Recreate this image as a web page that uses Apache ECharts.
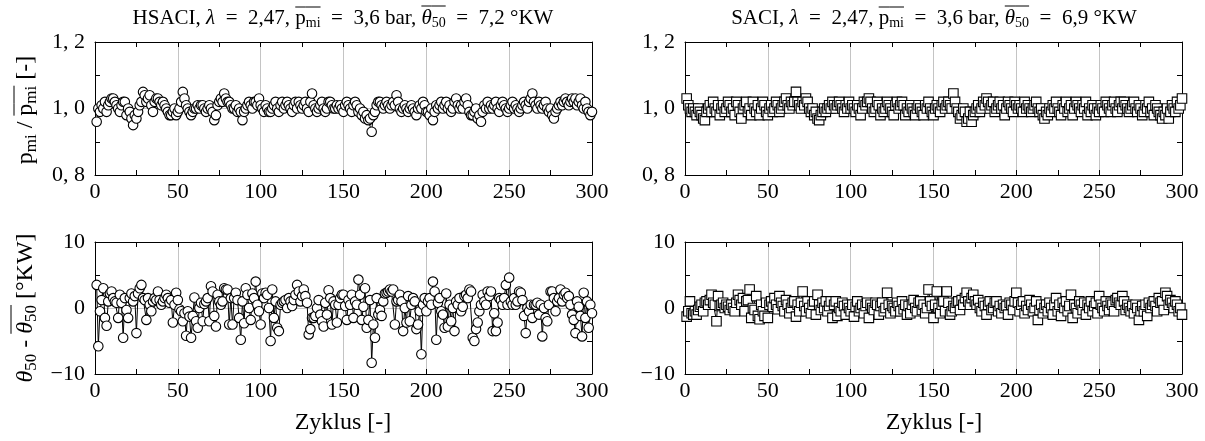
<!DOCTYPE html>
<html><head><meta charset="utf-8">
<script src="https://cdn.jsdelivr.net/npm/echarts@6/dist/echarts.min.js"></script>
<style>html,body{margin:0;padding:0;background:#fff}#c{width:1205px;height:441px}</style>
</head><body><div id="c"></div>
<script>
// ---- data ----
const xTickLabelsTop = ['0','50','100','150','200','250','300'];
const yTickLabelsP = {0.8:'0, 8', 1.0:'1, 0', 1.2:'1, 2'};
const yTickLabelsT = {'-10':'\u221210', '0':'0', '10':'10'};

const pHSACI = [
0.96,1.00,0.99,1.01,1.00,1.02,0.99,1.01,1.02,1.03,1.03,1.02,1.01,1.00,0.99,1.01,1.02,1.02,0.98,1.00,0.99,0.97,0.95,0.98,0.97,
0.99,1.01,1.02,1.05,1.04,1.02,1.03,1.04,1.01,0.99,1.02,1.03,1.03,1.02,1.01,1.02,1.01,1.00,0.99,0.98,0.98,0.99,1.00,0.98,0.99,
1.00,1.02,1.05,1.03,1.01,1.00,0.99,0.98,0.99,1.00,1.00,1.01,1.00,1.01,1.01,1.00,0.99,1.00,1.01,1.00,0.99,0.965,0.98,1.01,1.02,
1.03,1.02,1.045,1.03,1.02,1.02,1.01,1.00,1.00,1.01,0.99,1.00,0.99,0.965,0.99,1.00,1.01,1.02,1.01,1.00,1.02,1.02,1.01,1.03,1.01,
1.00,0.99,1.01,1.00,0.99,0.99,1.00,1.01,1.02,1.00,0.99,1.01,1.02,1.00,1.01,1.02,1.01,1.00,0.99,1.01,1.02,1.00,1.02,1.01,1.00,
1.01,1.02,1.00,0.99,1.02,1.045,1.01,1.00,0.99,1.00,1.01,1.02,1.00,0.99,1.00,1.02,1.02,1.01,1.00,1.00,1.01,1.00,1.01,1.00,0.99,
1.01,1.02,1.01,1.00,0.99,1.01,1.02,1.01,0.99,1.00,0.98,0.99,0.97,0.98,0.965,0.97,0.93,0.98,0.99,1.01,1.02,1.02,1.01,1.00,1.01,
1.02,1.01,1.00,1.01,1.02,1.01,1.04,1.02,1.00,0.99,1.00,1.01,1.00,0.99,1.00,1.01,1.00,0.99,0.98,1.00,1.01,1.00,1.02,1.01,0.99,
0.99,0.98,1.00,0.965,0.99,1.01,1.00,1.01,1.02,1.00,1.01,1.02,1.00,1.01,0.99,1.00,1.02,1.03,1.01,1.00,1.01,1.00,1.02,1.03,1.01,
0.99,0.98,0.98,0.99,1.00,0.97,0.98,0.96,0.99,1.01,1.00,1.02,1.00,1.01,1.00,1.01,1.02,1.00,0.99,1.01,1.02,1.01,1.00,0.99,1.00,
1.01,1.02,1.00,1.01,1.00,0.99,1.00,1.01,1.02,1.01,1.00,1.02,1.03,1.045,1.02,1.01,1.00,1.02,1.01,1.00,1.01,1.02,1.00,0.99,1.00,
0.98,0.97,0.99,1.00,1.01,1.02,1.01,1.02,1.03,1.02,1.01,1.02,1.03,1.02,1.03,1.01,1.02,1.03,1.01,1.00,1.02,1.00,0.99,0.98,0.99
];
const pSACI = [
1.03,1.01,1.00,0.99,1.00,0.99,0.98,1.00,0.99,0.98,0.97,0.965,0.99,1.00,1.01,0.99,1.02,1.00,0.99,1.01,0.98,1.00,1.01,0.99,1.00,
1.02,1.01,0.99,1.00,0.98,1.02,1.01,0.99,0.97,1.00,1.01,1.02,0.99,1.00,0.98,1.02,1.00,0.99,1.01,0.98,1.00,1.02,1.01,0.99,0.98,
1.00,1.01,0.99,1.00,1.02,1.01,0.99,1.00,1.01,1.02,1.03,1.01,1.00,1.02,1.01,1.02,1.05,1.02,1.01,1.00,1.02,1.01,1.03,1.02,1.00,
0.99,1.00,0.98,0.99,0.97,0.965,0.98,0.99,1.00,0.99,1.00,1.01,1.00,1.02,1.01,1.00,1.01,1.02,1.01,1.00,0.99,1.01,1.00,1.02,1.00,
1.01,1.00,0.99,1.01,1.00,0.98,1.00,1.02,1.01,1.02,1.03,1.02,1.00,0.99,1.00,1.02,1.01,0.98,1.00,0.99,1.00,1.02,1.01,1.00,0.99,
0.98,1.01,1.02,1.00,1.01,1.02,1.01,0.98,1.00,0.99,1.01,1.00,0.99,0.98,1.00,1.01,1.00,0.99,0.98,1.01,1.00,1.02,1.00,0.99,0.98,
1.00,1.01,1.00,0.99,1.01,1.02,1.00,1.01,1.02,1.01,1.00,1.045,1.02,1.00,0.99,0.97,0.98,1.00,0.99,0.96,0.97,0.99,0.96,0.98,0.99,
1.00,1.01,0.99,1.00,1.02,1.01,1.03,1.02,1.00,1.01,1.02,0.99,1.00,1.01,1.02,1.00,1.01,0.98,1.00,1.02,1.01,1.00,0.99,1.02,1.01,
1.00,1.01,1.00,0.99,1.02,1.00,1.01,1.00,0.99,1.00,1.01,1.02,1.00,0.99,1.00,0.98,0.97,0.99,0.98,1.00,0.99,1.01,1.00,1.02,1.00,
0.99,0.98,1.01,1.00,1.02,0.99,1.00,1.01,0.98,1.00,1.02,1.01,1.00,0.99,1.01,1.00,1.02,0.98,1.00,0.99,1.01,1.00,0.98,1.00,0.99,
1.01,1.00,0.99,1.02,1.01,1.00,0.99,1.01,1.02,1.00,0.99,1.01,1.02,1.00,1.02,1.01,1.00,0.99,1.00,1.01,1.02,1.00,0.99,1.01,1.00,
0.98,0.99,1.01,1.00,1.02,0.99,1.00,0.98,1.01,1.00,0.99,0.98,0.97,0.99,0.98,1.00,0.97,0.99,1.01,1.00,0.99,1.02,1.00,1.01,1.03
];
const tHSACI = [
3.5,-5.8,-0.5,1.2,3.0,-1.5,-2.7,1.0,2.2,2.5,1.5,1.0,0.8,-1.5,2.0,0.8,-4.5,1.5,-0.3,-1.5,1.5,2.2,1.0,1.8,-3.8,
2.2,3.0,3.5,1.5,1.2,-1.8,1.5,0.5,-0.5,1.0,1.5,1.2,2.5,1.2,0.5,1.0,1.5,2.0,1.5,0.8,1.2,-2.2,0.5,2.3,1.2,
-0.2,-0.5,-2.0,-0.8,-4.2,-0.5,-1.3,-4.5,-1.2,1.6,-2.0,-3.0,0.0,0.8,-2.0,0.6,1.0,1.5,-2.0,3.3,2.5,-1.2,-2.8,2.0,1.0,
0.5,1.0,3.0,2.8,2.8,-2.5,1.5,-2.5,1.5,2.3,1.2,-1.5,-4.8,1.0,-2.3,3.0,2.0,0.0,-1.8,2.2,1.5,4.0,0.5,-0.5,-2.5,
2.2,1.5,2.3,2.0,0.0,-5.0,2.8,-1.5,1.0,-3.0,-3.5,0.5,0.8,1.0,1.2,0.0,1.5,1.0,0.3,1.2,2.0,3.5,2.5,1.0,1.8,
2.8,1.8,0.8,-4.0,-3.2,-1.5,-1.5,-1.2,0.0,1.2,-1.0,-2.0,-2.8,0.8,-1.0,2.7,1.5,-2.5,1.0,0.5,-2.2,0.5,1.5,2.0,2.0,
0.3,-1.8,1.2,0.5,2.0,-1.5,1.0,0.5,4.3,2.0,-1.8,0.2,3.0,-3.0,-1.8,1.2,-8.3,-2.5,-4.5,1.5,-1.0,-0.3,-1.2,1.0,2.2,
2.3,2.5,2.8,2.5,2.8,-2.5,1.0,1.2,2.0,1.0,-3.5,0.0,-2.2,1.8,-2.0,0.5,1.5,1.0,-3.2,-2.5,-0.5,-7.0,0.5,1.5,-0.5,
1.0,1.5,0.5,4.0,2.5,-4.8,0.8,1.5,-0.5,-1.0,-3.0,2.2,-2.8,0.5,-2.0,0.0,-3.5,1.0,0.5,1.5,-0.5,0.2,1.8,2.0,1.5,
2.8,2.5,-4.5,-5.0,-3.2,-2.2,-0.5,0.5,2.0,1.0,0.5,2.5,1.8,2.5,-3.5,-0.8,-3.5,-2.2,1.5,1.2,0.5,1.5,3.5,0.5,4.6,
1.0,0.5,1.5,0.5,1.0,2.5,2.3,1.2,-1.2,-3.8,0.0,-0.5,0.5,-1.5,0.5,0.5,0.8,-1.0,0.5,-4.3,0.0,-1.5,-2.0,0.5,2.5,
2.5,1.5,-0.5,1.0,1.5,2.8,1.0,2.0,2.3,1.5,1.8,0.5,-1.0,-1.8,-3.8,1.0,0.2,-1.2,-4.3,2.3,-1.5,1.0,-3.0,0.5,-0.8
];
const tSACI = [
-1.3,-0.5,1.0,-0.8,-1.0,-0.5,-1.0,-0.3,0.2,0.5,-0.5,0.8,1.0,0.5,1.2,2.0,0.8,0.5,-2.0,1.8,0.3,0.5,0.8,0.0,0.5,
0.2,-0.3,0.5,0.0,-0.5,0.8,2.0,1.2,0.5,1.5,-0.5,1.0,1.2,2.8,-1.5,0.0,-0.3,1.8,-1.2,-1.7,0.5,-0.5,-1.2,0.8,-1.5,
0.5,1.0,0.2,1.5,0.5,-0.2,1.8,0.8,0.3,-0.5,1.2,0.5,-0.8,0.0,0.8,1.0,-1.3,0.5,-0.5,0.8,2.5,0.3,-0.5,1.0,0.0,
-0.8,0.5,1.0,-1.0,2.0,0.5,-0.3,0.8,0.0,1.0,-0.5,0.3,1.0,-1.5,0.5,1.0,-1.2,0.0,-0.5,0.8,0.3,-1.0,0.5,0.0,-0.5,
0.5,-1.3,0.2,1.0,-0.5,0.0,0.5,-0.8,0.3,0.8,-1.5,0.5,0.0,-0.3,0.8,0.5,-1.0,0.3,0.8,-0.5,0.0,2.3,0.5,-0.8,0.3,
0.0,-0.5,0.8,0.3,-0.5,1.0,-0.2,0.5,-1.0,0.3,-0.8,0.5,1.2,0.0,-0.5,0.8,1.0,-0.3,0.5,-0.8,0.0,2.8,1.0,0.3,-1.5,
0.5,2.5,0.0,-0.8,0.5,1.0,-0.5,2.5,0.8,-1.0,-0.5,0.3,0.0,0.8,1.0,-0.3,1.2,0.5,1.5,2.3,1.0,0.5,1.5,2.0,1.0,
0.5,1.2,0.0,-0.5,0.8,0.3,-1.0,0.5,1.0,-0.3,0.0,0.8,1.0,-0.5,0.3,-0.8,0.5,0.0,0.3,-1.0,0.8,0.5,-0.3,1.0,2.3,
0.8,-0.5,0.5,1.0,-0.8,0.3,-0.3,1.2,0.5,-0.5,0.0,1.0,-1.8,-0.3,0.5,-0.8,0.0,0.5,-0.5,0.8,0.0,-1.0,0.5,1.5,-0.5,
0.5,-1.2,0.8,0.0,1.0,-0.5,0.3,2.0,-1.5,0.5,0.0,-0.8,1.0,0.5,-0.3,0.8,-1.0,0.5,0.0,1.0,-0.5,0.3,0.8,-0.8,1.8,
0.5,0.0,-0.5,1.0,0.3,-0.3,0.8,0.5,-0.5,1.2,1.5,0.8,0.5,1.8,1.0,-0.3,0.5,0.0,-0.5,0.3,-0.8,0.5,0.0,-1.8,-0.5,
0.3,-0.5,0.5,-1.2,0.8,0.0,0.5,1.0,0.3,-0.5,1.5,0.8,1.0,-0.3,2.3,1.8,0.5,1.2,0.8,0.0,1.0,0.5,-0.5,0.0,-1.0
];

// ---- chart ----
const FONT = '"Liberation Serif", "DejaVu Serif", serif';
const chart = echarts.init(document.getElementById('c'), null, {renderer:'canvas'});
const grids = [
  {left:95, top:42, width:497, height:133},
  {left:685, top:42, width:497, height:133},
  {left:95, top:242, width:497, height:132},
  {left:685, top:242, width:497, height:132}
];
const TICKFS = 22;
const tickCommon = {show:true, inside:true, length:5, lineStyle:{color:'#000', width:1}};
const xAxis = [], yAxis = [];
grids.forEach((g, gi) => {
  const isP = gi < 2;
  xAxis.push({gridIndex:gi, type:'value', min:0, max:300, interval:50, position:'bottom',
    axisLine:{show:true, onZero:false, lineStyle:{color:'#000', width:1}},
    axisTick:tickCommon, minorTick:{show:true, splitNumber:2, length:5, lineStyle:{color:'#000'}},
    axisLabel:{fontFamily:FONT, fontSize:TICKFS, color:'#000', margin:6,
      formatter:v => xTickLabelsTop[Math.round(v/50)]},
    splitLine:{show:true, lineStyle:{color:'#c4c4c4', width:1}}});
  xAxis.push({gridIndex:gi, type:'value', min:0, max:300, interval:50, position:'top',
    axisLine:{show:true, onZero:false, lineStyle:{color:'#000', width:1}},
    axisTick:tickCommon, minorTick:{show:true, splitNumber:2, length:5, lineStyle:{color:'#000'}},
    axisLabel:{show:false}, splitLine:{show:false}});
  const yb = isP ? {min:0.8, max:1.2, interval:0.2} : {min:-10, max:10, interval:10};
  yAxis.push(Object.assign({gridIndex:gi, type:'value', position:'left',
    axisLine:{show:true, onZero:false, lineStyle:{color:'#000', width:1}},
    axisTick:tickCommon, minorTick:{show:true, splitNumber:2, length:5, lineStyle:{color:'#000'}},
    axisLabel:{fontFamily:FONT, fontSize:TICKFS, color:'#000', margin:10,
      formatter:v => isP ? yTickLabelsP[Math.round(v*10)/10] : yTickLabelsT[String(Math.round(v))]},
    splitLine:{show:true, lineStyle:{color:'#c4c4c4', width:1}}}, yb));
  yAxis.push(Object.assign({gridIndex:gi, type:'value', position:'right',
    axisLine:{show:true, onZero:false, lineStyle:{color:'#000', width:1}},
    axisTick:tickCommon, minorTick:{show:true, splitNumber:2, length:5, lineStyle:{color:'#000'}},
    axisLabel:{show:false}, splitLine:{show:false}}, yb));
});

function mkSeries(vals, gi, symbol) {
  return {type:'line', xAxisIndex:gi*2, yAxisIndex:gi*2,
    data: vals.map((v, i) => [i + 1, v]),
    symbol: symbol, symbolSize: 9.5, showSymbol:true, showAllSymbol:true,
    lineStyle:{color:'#000', width:1},
    itemStyle:{color:'#fff', borderColor:'#000', borderWidth:1.1},
    emphasis:{disabled:true}, silent:true, animation:false, z:3};
}

// math-like text composed of segments, measured on a canvas
const mctx = document.createElement('canvas').getContext('2d');
function mathLabel(segs, cx, cy, rotation) {
  let x = 0; const kids = []; const overs = [];
  segs.forEach(s => {
    const font = (s.it ? 'italic ' : '') + s.size + 'px ' + FONT;
    mctx.font = font;
    const w = mctx.measureText(s.t).width;
    kids.push({type:'text', x:x, y:(s.dy || 0), style:{text:s.t, font:font, fill:'#000', verticalAlign:'middle', align:'left'}});
    if (s.ov) overs.push([x, x + w, s.ov]);
    x += w;
  });
  const W = x;
  kids.forEach(k => k.x -= W / 2);
  overs.forEach(o => kids.push({type:'line', shape:{x1:o[0] - W/2, y1:o[2], x2:o[1] - W/2, y2:o[2]}, style:{stroke:'#000', lineWidth:1}}));
  return {type:'group', x:cx, y:cy, rotation:rotation || 0, children:kids, silent:true};
}
const TS = 21, SS = 14;
const EQ = '\u2002=\u2002';
function titleSegs(name, th) {
  return [
    {t:name + ', ', size:TS}, {t:'\u03bb', size:TS, it:true}, {t:EQ + '2,47, ', size:TS},
    {t:'p', size:TS, ov:-11}, {t:'mi', size:SS, dy:5, ov:-11}, {t:EQ + '3,6 bar, ', size:TS},
    {t:'\u03b8', size:TS, it:true, ov:-12}, {t:'50', size:SS, dy:5, ov:-12}, {t:EQ + th + ' \u00b0KW', size:TS}
  ];
}
const LS = 24, LSS = 17;
const graphic = [
  mathLabel(titleSegs('HSACI', '7,2'), 343, 18),
  mathLabel(titleSegs('SACI', '6,9'), 934, 18),
  mathLabel([{t:'p', size:LS}, {t:'mi', size:LSS, dy:6}, {t:' / ', size:LS}, {t:'p', size:LS, ov:-12}, {t:'mi', size:LSS, dy:6, ov:-12}, {t:' [-]', size:LS}], 26, 110, Math.PI/2),
  mathLabel([{t:'\u03b8', size:LS, it:true}, {t:'50', size:LSS, dy:6}, {t:' - ', size:LS}, {t:'\u03b8', size:LS, it:true, ov:-15}, {t:'50', size:LSS, dy:6, ov:-15}, {t:' [\u00b0KW]', size:LS}], 26, 308, Math.PI/2),
  mathLabel([{t:'Zyklus [-]', size:24}], 343, 423),
  mathLabel([{t:'Zyklus [-]', size:24}], 934, 423)
];

chart.setOption({
  animation:false, backgroundColor:'#fff',
  grid: grids.map(g => Object.assign({show:false, containLabel:false}, g)),
  xAxis, yAxis,
  series:[mkSeries(pHSACI, 0, 'circle'), mkSeries(pSACI, 1, 'rect'), mkSeries(tHSACI, 2, 'circle'), mkSeries(tSACI, 3, 'rect')],
  graphic
});
</script></body></html>
